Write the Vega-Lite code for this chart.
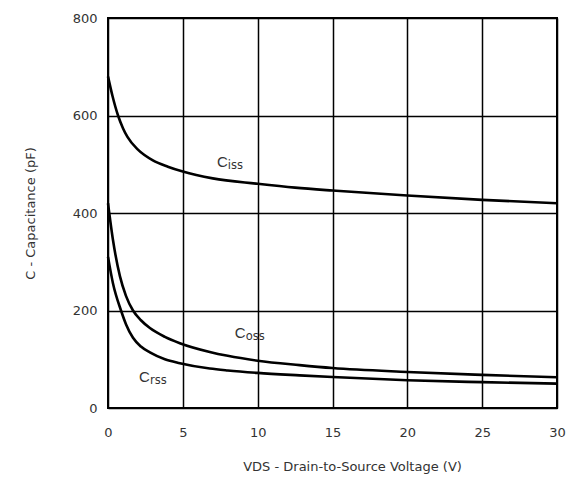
{
  "$schema": "https://vega.github.io/schema/vega-lite/v6.json",
  "width": 449,
  "height": 390,
  "autosize": "none",
  "padding": {"left": 108, "top": 18, "right": 16, "bottom": 80},
  "background": "white",
  "config": {
    "view": {"stroke": "black", "strokeWidth": 2},
    "font": "DejaVu Sans"
  },
  "datasets": {
    "curves": [
      {"v": 0, "c": 680, "s": "Ciss"}, {"v": 0.3, "c": 640, "s": "Ciss"}, {"v": 0.67, "c": 600, "s": "Ciss"},
      {"v": 1, "c": 574, "s": "Ciss"}, {"v": 1.3, "c": 556, "s": "Ciss"}, {"v": 2, "c": 530, "s": "Ciss"},
      {"v": 3, "c": 508, "s": "Ciss"}, {"v": 4, "c": 495, "s": "Ciss"}, {"v": 5, "c": 485, "s": "Ciss"},
      {"v": 7, "c": 471, "s": "Ciss"}, {"v": 10, "c": 460, "s": "Ciss"}, {"v": 12.5, "c": 452, "s": "Ciss"},
      {"v": 15, "c": 446, "s": "Ciss"}, {"v": 20, "c": 436, "s": "Ciss"}, {"v": 25, "c": 427, "s": "Ciss"},
      {"v": 30, "c": 420, "s": "Ciss"},
      {"v": 0, "c": 420, "s": "Coss"}, {"v": 0.33, "c": 345, "s": "Coss"}, {"v": 0.8, "c": 270, "s": "Coss"},
      {"v": 1.2, "c": 230, "s": "Coss"}, {"v": 1.67, "c": 200, "s": "Coss"}, {"v": 2.2, "c": 180, "s": "Coss"},
      {"v": 2.8, "c": 164, "s": "Coss"}, {"v": 3.8, "c": 146, "s": "Coss"}, {"v": 4.8, "c": 133, "s": "Coss"},
      {"v": 6.8, "c": 115, "s": "Coss"}, {"v": 8, "c": 107, "s": "Coss"}, {"v": 10, "c": 97, "s": "Coss"},
      {"v": 12.8, "c": 88, "s": "Coss"}, {"v": 15, "c": 82, "s": "Coss"}, {"v": 20, "c": 74, "s": "Coss"},
      {"v": 25, "c": 68, "s": "Coss"}, {"v": 30, "c": 63, "s": "Coss"},
      {"v": 0, "c": 310, "s": "Crss"}, {"v": 0.33, "c": 256, "s": "Crss"}, {"v": 0.87, "c": 200, "s": "Crss"},
      {"v": 1.2, "c": 172, "s": "Crss"}, {"v": 1.67, "c": 144, "s": "Crss"}, {"v": 2.2, "c": 126, "s": "Crss"},
      {"v": 2.8, "c": 114, "s": "Crss"}, {"v": 3.8, "c": 100, "s": "Crss"}, {"v": 4.8, "c": 92, "s": "Crss"},
      {"v": 6.8, "c": 81, "s": "Crss"}, {"v": 8, "c": 77, "s": "Crss"}, {"v": 10, "c": 72, "s": "Crss"},
      {"v": 12.8, "c": 67, "s": "Crss"}, {"v": 15, "c": 63.5, "s": "Crss"}, {"v": 20, "c": 57, "s": "Crss"},
      {"v": 25, "c": 53, "s": "Crss"}, {"v": 30, "c": 50, "s": "Crss"}
    ],
    "labels": [
      {"v": 8.0, "c": 505, "main": "C", "sub": "iss"},
      {"v": 9.2, "c": 154, "main": "C", "sub": "oss"},
      {"v": 2.8, "c": 64, "main": "C", "sub": "rss"}
    ]
  },
  "layer": [
    {
      "data": {"name": "curves"},
      "mark": {"type": "line", "color": "black", "strokeWidth": 2.6, "interpolate": "monotone"},
      "encoding": {
        "x": {
          "field": "v", "type": "quantitative",
          "scale": {"domain": [0, 30], "nice": false},
          "axis": {
            "values": [0, 5, 10, 15, 20, 25, 30],
            "grid": true, "gridColor": "black", "gridOpacity": 1, "gridWidth": 1.5,
            "ticks": false, "domain": false, "labelFlush": false,
            "labelFontSize": 13, "labelColor": "#333", "labelPadding": 18,
            "title": "VDS - Drain-to-Source Voltage (V)",
            "titleX": 244,
            "titleFontSize": 13, "titleFontWeight": "normal", "titleColor": "#333", "titlePadding": 21
          }
        },
        "y": {
          "field": "c", "type": "quantitative",
          "scale": {"domain": [0, 800], "nice": false},
          "axis": {
            "values": [0, 200, 400, 600, 800],
            "grid": true, "gridColor": "black", "gridOpacity": 1, "gridWidth": 1.5,
            "ticks": false, "domain": false, "labelFlush": false,
            "labelFontSize": 13, "labelColor": "#333", "labelPadding": 11,
            "title": "C - Capacitance (pF)",
            "titleFontSize": 13, "titleFontWeight": "normal", "titleColor": "#333", "titlePadding": 35
          }
        },
        "detail": {"field": "s"}
      }
    },
    {
      "data": {"name": "labels"},
      "mark": {"type": "text", "align": "right", "baseline": "middle", "fontSize": 15, "color": "#333", "font": "Liberation Sans"},
      "encoding": {
        "x": {"field": "v", "type": "quantitative"},
        "y": {"field": "c", "type": "quantitative"},
        "text": {"field": "main"}
      }
    },
    {
      "data": {"name": "labels"},
      "mark": {"type": "text", "align": "left", "baseline": "middle", "fontSize": 11.5, "dy": 4, "color": "#333"},
      "encoding": {
        "x": {"field": "v", "type": "quantitative"},
        "y": {"field": "c", "type": "quantitative"},
        "text": {"field": "sub"}
      }
    }
  ]
}
